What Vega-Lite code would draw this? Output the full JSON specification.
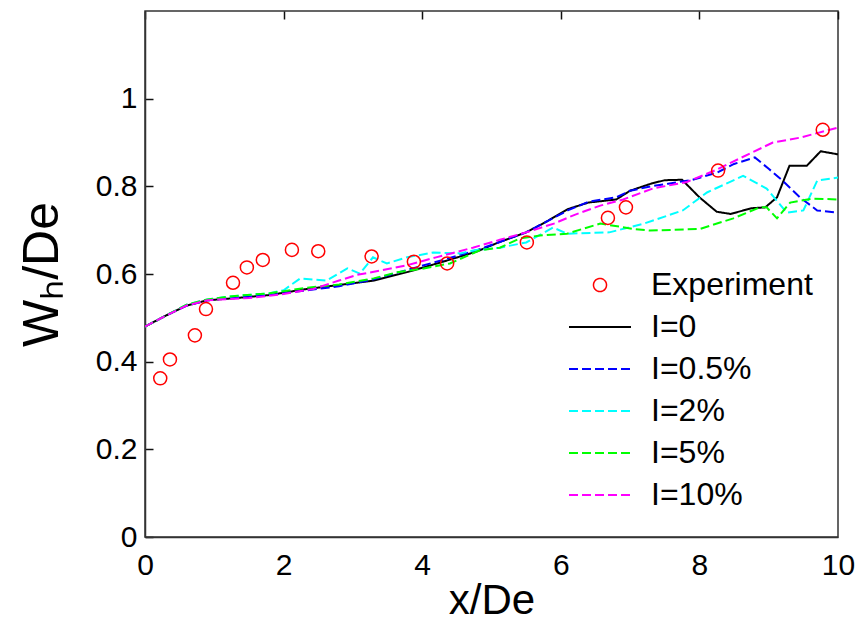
{
  "$schema": "https://vega.github.io/schema/vega-lite/v6.json",
  "width": 693,
  "height": 526,
  "autosize": {"type": "none"},
  "padding": {"left": 145, "top": 11, "right": 22, "bottom": 85},
  "background": "white",
  "config": {
    "view": {"stroke": "#333", "strokeWidth": 1.5},
    "font": "Liberation Sans",
    "axis": {
      "labelFont": "Liberation Sans",
      "titleFont": "Liberation Sans",
      "labelFontSize": 30,
      "titleFontSize": 42,
      "titleFontWeight": "normal",
      "labelColor": "#000",
      "titleColor": "#000",
      "domainColor": "#333",
      "domainWidth": 1.5,
      "ticks": false,
      "grid": true,
      "gridColor": "#111",
      "gridOpacity": 1,
      "gridWidth": 1.5,
      "gridDash": [8, 3000],
      "zindex": 1
    },
    "legend": {
      "labelFont": "Liberation Sans",
      "labelFontSize": 32,
      "labelColor": "#000",
      "labelLimit": 0
    }
  },
  "data": {
    "values": [
      {"series": "Experiment", "x": 0.22, "y": 0.362},
      {"series": "Experiment", "x": 0.36, "y": 0.405},
      {"series": "Experiment", "x": 0.72, "y": 0.46},
      {"series": "Experiment", "x": 0.88, "y": 0.52},
      {"series": "Experiment", "x": 1.27, "y": 0.58},
      {"series": "Experiment", "x": 1.47, "y": 0.615},
      {"series": "Experiment", "x": 1.7, "y": 0.632},
      {"series": "Experiment", "x": 2.12, "y": 0.655},
      {"series": "Experiment", "x": 2.5, "y": 0.652},
      {"series": "Experiment", "x": 3.27, "y": 0.64},
      {"series": "Experiment", "x": 3.88, "y": 0.628},
      {"series": "Experiment", "x": 4.36, "y": 0.624},
      {"series": "Experiment", "x": 5.51, "y": 0.672},
      {"series": "Experiment", "x": 6.68, "y": 0.728},
      {"series": "Experiment", "x": 6.94, "y": 0.752},
      {"series": "Experiment", "x": 8.27, "y": 0.836},
      {"series": "Experiment", "x": 9.78, "y": 0.929},

      {"series": "I=0", "x": 0, "y": 0.48},
      {"series": "I=0", "x": 0.3, "y": 0.505},
      {"series": "I=0", "x": 0.6, "y": 0.528},
      {"series": "I=0", "x": 0.9, "y": 0.54},
      {"series": "I=0", "x": 1.3, "y": 0.545},
      {"series": "I=0", "x": 1.8, "y": 0.552},
      {"series": "I=0", "x": 2.3, "y": 0.565},
      {"series": "I=0", "x": 2.8, "y": 0.575},
      {"series": "I=0", "x": 3.3, "y": 0.585},
      {"series": "I=0", "x": 3.8, "y": 0.605},
      {"series": "I=0", "x": 4.3, "y": 0.628},
      {"series": "I=0", "x": 4.8, "y": 0.652},
      {"series": "I=0", "x": 5.1, "y": 0.672},
      {"series": "I=0", "x": 5.5, "y": 0.695},
      {"series": "I=0", "x": 5.8, "y": 0.72},
      {"series": "I=0", "x": 6.1, "y": 0.748},
      {"series": "I=0", "x": 6.4, "y": 0.763},
      {"series": "I=0", "x": 6.8, "y": 0.77},
      {"series": "I=0", "x": 7.0, "y": 0.79},
      {"series": "I=0", "x": 7.3, "y": 0.806},
      {"series": "I=0", "x": 7.5, "y": 0.814},
      {"series": "I=0", "x": 7.75, "y": 0.815},
      {"series": "I=0", "x": 8.0, "y": 0.775},
      {"series": "I=0", "x": 8.25, "y": 0.742},
      {"series": "I=0", "x": 8.45, "y": 0.737},
      {"series": "I=0", "x": 8.75, "y": 0.75},
      {"series": "I=0", "x": 8.95, "y": 0.752},
      {"series": "I=0", "x": 9.12, "y": 0.775},
      {"series": "I=0", "x": 9.3, "y": 0.847},
      {"series": "I=0", "x": 9.55, "y": 0.847},
      {"series": "I=0", "x": 9.75, "y": 0.88},
      {"series": "I=0", "x": 10, "y": 0.873},

      {"series": "I=0.5%", "x": 0, "y": 0.48},
      {"series": "I=0.5%", "x": 0.3, "y": 0.505},
      {"series": "I=0.5%", "x": 0.6, "y": 0.528},
      {"series": "I=0.5%", "x": 0.9, "y": 0.54},
      {"series": "I=0.5%", "x": 1.3, "y": 0.546},
      {"series": "I=0.5%", "x": 1.8, "y": 0.552},
      {"series": "I=0.5%", "x": 2.3, "y": 0.562},
      {"series": "I=0.5%", "x": 2.8, "y": 0.572},
      {"series": "I=0.5%", "x": 3.3, "y": 0.588},
      {"series": "I=0.5%", "x": 3.8, "y": 0.61},
      {"series": "I=0.5%", "x": 4.3, "y": 0.632},
      {"series": "I=0.5%", "x": 4.8, "y": 0.655},
      {"series": "I=0.5%", "x": 5.1, "y": 0.672},
      {"series": "I=0.5%", "x": 5.5, "y": 0.695},
      {"series": "I=0.5%", "x": 5.8, "y": 0.72},
      {"series": "I=0.5%", "x": 6.1, "y": 0.745},
      {"series": "I=0.5%", "x": 6.4, "y": 0.765},
      {"series": "I=0.5%", "x": 6.8, "y": 0.775},
      {"series": "I=0.5%", "x": 7.0, "y": 0.79},
      {"series": "I=0.5%", "x": 7.3, "y": 0.8},
      {"series": "I=0.5%", "x": 7.55, "y": 0.806},
      {"series": "I=0.5%", "x": 7.9, "y": 0.815},
      {"series": "I=0.5%", "x": 8.25, "y": 0.831},
      {"series": "I=0.5%", "x": 8.5, "y": 0.851},
      {"series": "I=0.5%", "x": 8.8, "y": 0.866},
      {"series": "I=0.5%", "x": 9.0, "y": 0.84},
      {"series": "I=0.5%", "x": 9.2, "y": 0.813},
      {"series": "I=0.5%", "x": 9.45, "y": 0.775},
      {"series": "I=0.5%", "x": 9.7, "y": 0.745},
      {"series": "I=0.5%", "x": 10, "y": 0.74},

      {"series": "I=2%", "x": 0, "y": 0.48},
      {"series": "I=2%", "x": 0.3, "y": 0.505},
      {"series": "I=2%", "x": 0.6, "y": 0.53},
      {"series": "I=2%", "x": 0.9, "y": 0.542},
      {"series": "I=2%", "x": 1.3, "y": 0.55},
      {"series": "I=2%", "x": 1.8, "y": 0.556},
      {"series": "I=2%", "x": 2.0, "y": 0.563},
      {"series": "I=2%", "x": 2.24, "y": 0.59},
      {"series": "I=2%", "x": 2.62, "y": 0.585},
      {"series": "I=2%", "x": 2.92, "y": 0.613},
      {"series": "I=2%", "x": 3.1, "y": 0.601},
      {"series": "I=2%", "x": 3.29, "y": 0.638},
      {"series": "I=2%", "x": 3.49, "y": 0.624},
      {"series": "I=2%", "x": 3.78, "y": 0.638},
      {"series": "I=2%", "x": 4.16, "y": 0.649},
      {"series": "I=2%", "x": 4.55, "y": 0.647},
      {"series": "I=2%", "x": 4.75, "y": 0.654},
      {"series": "I=2%", "x": 5.12, "y": 0.66},
      {"series": "I=2%", "x": 5.5, "y": 0.672},
      {"series": "I=2%", "x": 5.89, "y": 0.706},
      {"series": "I=2%", "x": 6.09, "y": 0.692},
      {"series": "I=2%", "x": 6.7, "y": 0.695},
      {"series": "I=2%", "x": 7.2, "y": 0.715},
      {"series": "I=2%", "x": 7.76, "y": 0.745},
      {"series": "I=2%", "x": 8.11, "y": 0.786},
      {"series": "I=2%", "x": 8.63, "y": 0.824},
      {"series": "I=2%", "x": 8.97, "y": 0.795},
      {"series": "I=2%", "x": 9.26, "y": 0.74},
      {"series": "I=2%", "x": 9.5, "y": 0.745},
      {"series": "I=2%", "x": 9.7, "y": 0.813},
      {"series": "I=2%", "x": 10, "y": 0.82},

      {"series": "I=5%", "x": 0, "y": 0.48},
      {"series": "I=5%", "x": 0.3, "y": 0.505},
      {"series": "I=5%", "x": 0.6, "y": 0.53},
      {"series": "I=5%", "x": 0.9, "y": 0.542},
      {"series": "I=5%", "x": 1.3, "y": 0.55},
      {"series": "I=5%", "x": 1.8, "y": 0.556},
      {"series": "I=5%", "x": 2.3, "y": 0.568},
      {"series": "I=5%", "x": 2.8, "y": 0.576},
      {"series": "I=5%", "x": 3.3, "y": 0.59},
      {"series": "I=5%", "x": 3.64, "y": 0.604},
      {"series": "I=5%", "x": 4.0, "y": 0.612},
      {"series": "I=5%", "x": 4.4, "y": 0.624},
      {"series": "I=5%", "x": 4.83, "y": 0.654},
      {"series": "I=5%", "x": 5.12, "y": 0.66},
      {"series": "I=5%", "x": 5.41, "y": 0.681},
      {"series": "I=5%", "x": 5.7, "y": 0.688},
      {"series": "I=5%", "x": 6.09, "y": 0.692},
      {"series": "I=5%", "x": 6.57, "y": 0.715},
      {"series": "I=5%", "x": 7.04, "y": 0.703},
      {"series": "I=5%", "x": 7.29, "y": 0.699},
      {"series": "I=5%", "x": 8.01, "y": 0.703},
      {"series": "I=5%", "x": 8.49, "y": 0.727},
      {"series": "I=5%", "x": 8.87, "y": 0.752},
      {"series": "I=5%", "x": 8.97, "y": 0.752},
      {"series": "I=5%", "x": 9.12, "y": 0.727},
      {"series": "I=5%", "x": 9.31, "y": 0.763},
      {"series": "I=5%", "x": 9.64, "y": 0.772},
      {"series": "I=5%", "x": 10, "y": 0.77},

      {"series": "I=10%", "x": 0, "y": 0.48},
      {"series": "I=10%", "x": 0.3, "y": 0.505},
      {"series": "I=10%", "x": 0.6, "y": 0.528},
      {"series": "I=10%", "x": 0.9, "y": 0.54},
      {"series": "I=10%", "x": 1.08, "y": 0.542},
      {"series": "I=10%", "x": 1.5, "y": 0.545},
      {"series": "I=10%", "x": 1.95, "y": 0.553},
      {"series": "I=10%", "x": 2.43, "y": 0.566},
      {"series": "I=10%", "x": 2.8, "y": 0.585},
      {"series": "I=10%", "x": 3.06, "y": 0.598},
      {"series": "I=10%", "x": 3.4, "y": 0.608},
      {"series": "I=10%", "x": 3.78, "y": 0.62},
      {"series": "I=10%", "x": 4.2, "y": 0.638},
      {"series": "I=10%", "x": 4.73, "y": 0.66},
      {"series": "I=10%", "x": 5.12, "y": 0.678},
      {"series": "I=10%", "x": 5.5, "y": 0.695},
      {"series": "I=10%", "x": 5.9, "y": 0.715},
      {"series": "I=10%", "x": 6.2, "y": 0.735},
      {"series": "I=10%", "x": 6.57, "y": 0.756},
      {"series": "I=10%", "x": 6.9, "y": 0.77},
      {"series": "I=10%", "x": 7.33, "y": 0.795},
      {"series": "I=10%", "x": 7.82, "y": 0.81},
      {"series": "I=10%", "x": 8.25, "y": 0.838},
      {"series": "I=10%", "x": 8.6, "y": 0.865},
      {"series": "I=10%", "x": 9.06, "y": 0.9},
      {"series": "I=10%", "x": 9.45, "y": 0.911},
      {"series": "I=10%", "x": 10, "y": 0.934}
    ]
  },
  "resolve": {"axis": {"x": "independent", "y": "independent"}},
  "layer": [
    {
      "transform": [{"filter": "datum.series !== 'Experiment'"}],
      "mark": {"type": "line", "strokeWidth": 2, "clip": true},
      "encoding": {
        "x": {
          "field": "x", "type": "quantitative",
          "scale": {"domain": [0, 10], "nice": false, "zero": false},
          "axis": {"orient": "bottom", "title": "x/De", "values": [0, 2, 4, 6, 8, 10], "labelPadding": 13, "titlePadding": 0, "labelFlush": false}
        },
        "y": {
          "field": "y", "type": "quantitative",
          "scale": {"domain": [0, 1.2], "nice": false, "zero": false},
          "axis": {"orient": "left", "title": "Wₕ/De", "titleFontSize": 50, "values": [0, 0.2, 0.4, 0.6, 0.8, 1], "format": "~g", "labelPadding": 8, "titlePadding": 28, "labelFlush": false}
        },
        "color": {
          "field": "series", "type": "nominal",
          "scale": {
            "domain": ["Experiment", "I=0", "I=0.5%", "I=2%", "I=5%", "I=10%"],
            "range": ["#ff0000", "#000000", "#0000ff", "#00ffff", "#00ff00", "#ff00ff"]
          },
          "legend": {
            "title": null,
            "orient": "none",
            "legendX": 439,
            "legendY": 258,
            "symbolSize": 3844,
            "symbolStrokeWidth": 2,
            "labelOffset": 35,
            "rowPadding": 10,
            "labelLimit": 0,
            "encode": {
              "symbols": {
                "update": {
                  "shape": {"signal": "datum.value === 'Experiment' ? 'circle' : 'stroke'"},
                  "size": {"signal": "datum.value === 'Experiment' ? 170 : 3844"},
                  "strokeDash": {"signal": "(datum.value === 'Experiment' || datum.value === 'I=0') ? [1, 0] : [9, 4]"},
                  "strokeWidth": {"signal": "datum.value === 'Experiment' ? 1.5 : 2"},
                  "fill": {"value": "transparent"},
                  "stroke": {"scale": "color", "field": "value"},
                  "opacity": {"value": 1}
                }
              }
            }
          }
        },
        "strokeDash": {
          "field": "series", "type": "nominal",
          "scale": {
            "domain": ["I=0", "I=0.5%", "I=2%", "I=5%", "I=10%"],
            "range": [[1, 0], [9, 4], [9, 4], [9, 4], [9, 4]]
          },
          "legend": null
        }
      }
    },
    {
      "transform": [{"filter": "datum.series === 'Experiment'"}],
      "mark": {"type": "point", "shape": "circle", "filled": false, "size": 170, "strokeWidth": 1.5, "opacity": 1},
      "encoding": {
        "x": {
          "field": "x", "type": "quantitative",
          "axis": {"orient": "top", "title": null, "labels": false, "values": [2, 4, 6, 8], "domain": false}
        },
        "y": {
          "field": "y", "type": "quantitative",
          "axis": {"orient": "right", "title": null, "labels": false, "values": [0.2, 0.4, 0.6, 0.8, 1], "domain": false}
        },
        "color": {"field": "series", "type": "nominal"}
      }
    }
  ]
}
